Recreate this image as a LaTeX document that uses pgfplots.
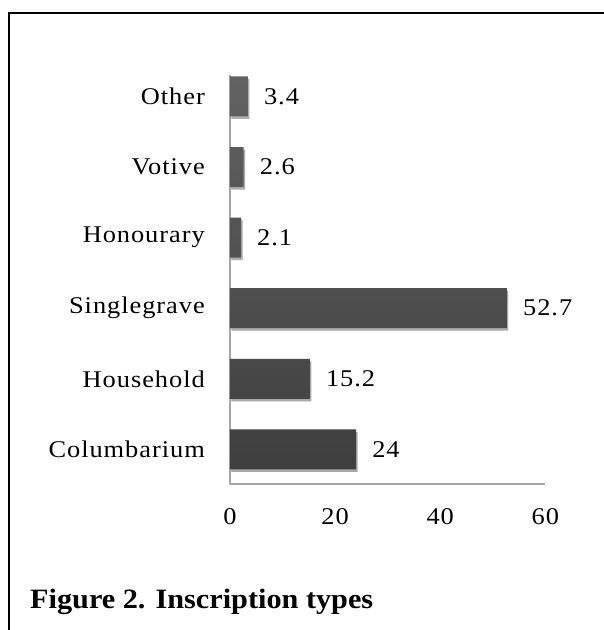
\documentclass[border=0pt]{standalone}
\usepackage{fontspec}
\setmainfont{Liberation Serif}
\newfontfamily\chartfont{Liberation Serif}[FakeStretch=1.1,LetterSpace=4]
\newfontfamily\titlefont{Liberation Serif}[FakeStretch=1.08]
\usepackage{pgfplots}
\pgfplotsset{compat=1.18}
\usetikzlibrary{shadows}
\definecolor{bartop}{RGB}{98,98,98}
\definecolor{barbot}{RGB}{62,62,62}
\definecolor{axisgray}{RGB}{165,165,165}
\begin{document}
\begin{tikzpicture}
\path[use as bounding box] (0,0) rectangle (604pt,630pt);
\draw[line width=2pt] (9pt,-5pt) -- (9pt,617pt) -- (612pt,617pt);
\begin{axis}[
  at={(230pt,146pt)}, anchor=south west,
  x=5.256pt, y=70.6pt,
  xmin=0, xmax=60, ymin=-0.49, ymax=5.3,
  xbar, bar width=40pt,
  axis lines*=left,
  axis line style={draw=axisgray, line width=1.3pt},
  xtick={0,20,40,60},
  ytick={0,...,5},
  yticklabels={Columbarium,Household,Singlegrave,Honourary,Votive,Other},
  major tick length=0pt,
  tick label style={font=\fontsize{24}{28}\selectfont\chartfont, inner sep=0pt},
  xticklabel style={anchor=north, yshift=-24pt},
  yticklabel style={anchor=east, xshift=-25pt},
  /pgf/number format/assume math mode=true,
  nodes near coords,
  every node near coord/.append style={font=\fontsize{24}{28}\selectfont\chartfont, anchor=west, inner sep=0pt, xshift=16pt, text=black},
  clip=false,
]
\addplot[draw=none, top color=bartop, bottom color=barbot,
  drop shadow={shadow xshift=1.5pt, shadow yshift=-2.5pt, opacity=0.22, fill=black}]
  coordinates {(24,0) (15.2,1) (52.7,2) (2.1,3) (2.6,4) (3.4,5)};
\end{axis}
\node[anchor=base west, inner sep=0pt, font=\fontsize{28}{32}\selectfont\titlefont\bfseries] at (30pt,21pt) {Figure 2. Inscription types};
\end{tikzpicture}
\end{document}
